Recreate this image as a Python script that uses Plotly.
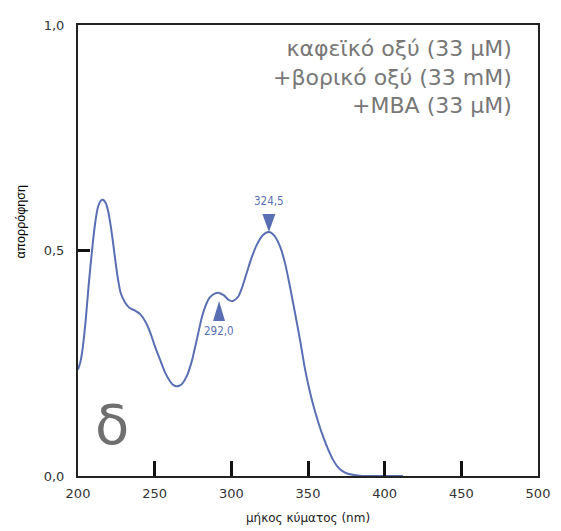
import plotly.graph_objects as go

# Spectrum (wavelength in nm, absorbance)
wavelength = [200, 201.5, 203, 205, 207, 209, 211, 213, 215, 216.5, 218, 219.5, 221, 222.5,
              224, 226, 228, 230.5, 233.5, 237, 240.5, 244, 247, 250, 253.5, 257, 260, 262,
              264, 266, 268, 271, 274, 276, 278.5, 281, 283.5, 286, 289.5, 292, 295, 298.5,
              301, 304.5, 307, 310, 313, 316.5, 320.5, 324.5, 328, 332, 335, 338, 341.5,
              345, 348, 351, 354, 357, 360, 363, 366, 369, 372, 376, 380, 385, 395, 412]
absorbance = [0.236, 0.252, 0.282, 0.345, 0.425, 0.495, 0.556, 0.596, 0.611, 0.612, 0.606,
              0.590, 0.562, 0.527, 0.487, 0.438, 0.404, 0.386, 0.373, 0.367, 0.359, 0.342,
              0.319, 0.289, 0.258, 0.228, 0.21, 0.202, 0.199, 0.200, 0.205, 0.222, 0.252,
              0.280, 0.318, 0.355, 0.380, 0.396, 0.405, 0.406, 0.401, 0.390, 0.388, 0.398,
              0.418, 0.450, 0.482, 0.512, 0.534, 0.541, 0.533, 0.507, 0.472, 0.424, 0.362,
              0.298, 0.238, 0.190, 0.150, 0.116, 0.086, 0.060, 0.038, 0.022, 0.012, 0.005,
              0.002, 0.0, 0.0, 0.0]

# Marked peaks: wavelength, tip absorbance, direction
peak_wl = [324.5, 292.0]
peak_tip = [0.541, 0.388]
peak_dir = ["down", "up"]

legend_lines = ["καφεϊκό οξύ (33 μM)", "+βορικό οξύ (33 mM)", "+MBA (33 μM)"]
panel_letter = "δ"
x_title = "μήκος κύματος (nm)"
y_title = "απορρόφηση"
x_ticks = [200, 250, 300, 350, 400, 450, 500]
y_ticks = [0.0, 0.5, 1.0]

LINE = "#5a6fb3"
fig = go.Figure()
fig.add_trace(go.Scatter(x=wavelength, y=absorbance, mode="lines",
                         line=dict(color=LINE, width=2, shape="spline", smoothing=0.8),
                         hoverinfo="skip", showlegend=False))

shapes = []
annotations = []
for wl, tip, d in zip(peak_wl, peak_tip, peak_dir):
    if d == "down":
        path = "M-6.5,18 L6.5,18 L0,0 Z"
        ys = 31
    else:
        path = "M-6,-20 L6,-20 L0,0 Z"
        ys = -30
    shapes.append(dict(type="path", xref="x", yref="y", xsizemode="pixel", ysizemode="pixel",
                       xanchor=wl, yanchor=tip, path=path,
                       fillcolor=LINE, line=dict(width=0)))
    annotations.append(dict(x=wl, y=tip, xref="x", yref="y", yshift=ys, showarrow=False,
                            text=f"{wl:.1f}".replace(".", ","),
                            font=dict(family="DejaVu Sans Condensed, DejaVu Sans", size=11.5, color=LINE)))

annotations.append(dict(x=0.948, y=0.979, xref="paper", yref="paper", xanchor="right", yanchor="top",
                        align="right", showarrow=False, text="<br>".join(legend_lines),
                        font=dict(family="DejaVu Sans", size=22, color="#777777")))
annotations.append(dict(x=0.0739, y=0.1135, xref="paper", yref="paper", xanchor="center", yanchor="middle",
                        showarrow=False, text=panel_letter,
                        font=dict(family="DejaVu Sans", size=56, color="#6f6f6f")))
annotations.append(dict(x=-0.123, y=0.565, xref="paper", yref="paper", xanchor="center", yanchor="middle",
                        textangle=-90, showarrow=False, text=y_title,
                        font=dict(family="Liberation Sans, Arial", size=12.5, color="#000000")))

fig.update_layout(
    width=561, height=531,
    margin=dict(l=70, r=31, t=10, b=63),
    paper_bgcolor="white", plot_bgcolor="white",
    separators=",.",
    shapes=shapes, annotations=annotations,
    font=dict(family="DejaVu Sans", size=13, color="#333333"),
    xaxis=dict(range=[200, 500], tickvals=x_ticks, ticks="inside", ticklen=15, tickwidth=2.5,
               tickcolor="#111111", showline=True, linewidth=2, linecolor="#222222", mirror=True,
               showgrid=False, zeroline=False, ticklabelstandoff=4,
               title=dict(text=x_title, font=dict(family="DejaVu Sans", size=12, color="#222222"), standoff=14),
               tickfont=dict(size=13, color="#333333")),
    yaxis=dict(range=[0, 1], tickvals=y_ticks, tickformat=".1f", ticks="inside", ticklen=12, tickwidth=3,
               tickcolor="#111111", showline=True, linewidth=2, linecolor="#222222", mirror=True,
               showgrid=False, zeroline=False, ticklabelstandoff=9,
               tickfont=dict(size=13, color="#333333")),
)

fig.write_html("out.html")
